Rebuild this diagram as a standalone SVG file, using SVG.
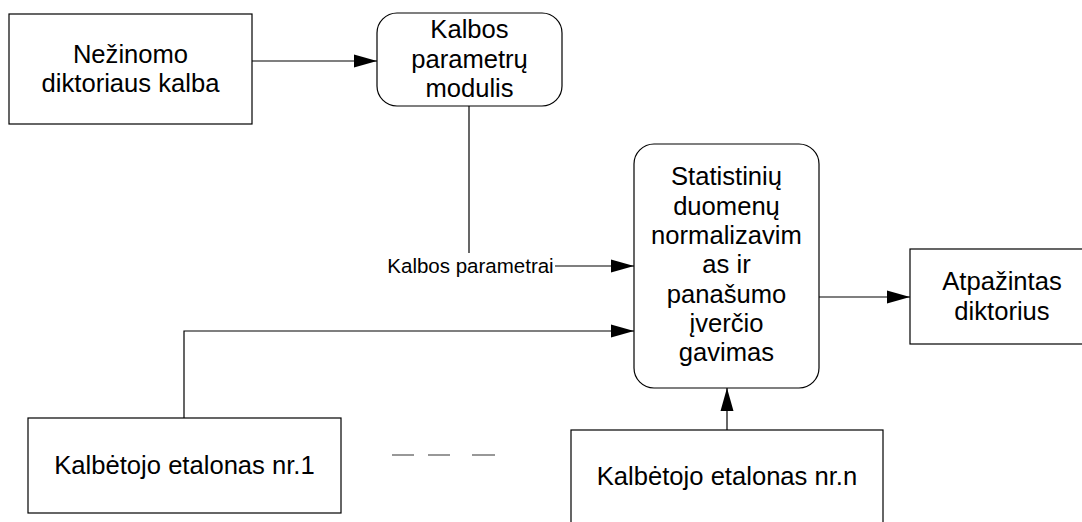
<svg xmlns="http://www.w3.org/2000/svg" width="1082" height="522" viewBox="0 0 1082 522">
  <style>
    .box { fill: #ffffff; stroke: #000000; stroke-width: 1.2; }
    .txt { font-family: "Liberation Sans", Arial, sans-serif; font-size: 25.6px; fill: #000000; text-anchor: middle; }
    .lbl { font-family: "Liberation Sans", Arial, sans-serif; font-size: 20.5px; fill: #000000; text-anchor: middle; }
    .wire { fill: none; stroke: #000000; stroke-width: 1.2; }
    .dash { fill: none; stroke: #333333; stroke-width: 1.2; }
  </style>
  <defs>
    <marker id="arrow" markerUnits="userSpaceOnUse" markerWidth="24" markerHeight="14" refX="23" refY="7" orient="auto">
      <path d="M0,0.5 L23,7 L0,13.5 Z" fill="#000000"/>
    </marker>
  </defs>
  <rect width="1082" height="522" fill="#ffffff"/>

  <g id="connectors">
    <path class="wire" d="M252,61 H377" marker-end="url(#arrow)"/>
    <path class="wire" d="M469,106 V253"/>
    <path class="wire" d="M555,266 H634" marker-end="url(#arrow)"/>
    <path class="wire" d="M184,418 V331 H634" marker-end="url(#arrow)"/>
    <path class="wire" d="M727,430 V388" marker-end="url(#arrow)"/>
    <path class="wire" d="M819,297 H910" marker-end="url(#arrow)"/>
    <text class="lbl" x="470.5" y="273">Kalbos parametrai</text>
  </g>

  <g id="unknown-speech">
    <rect class="box" x="9" y="14" width="243" height="110"/>
    <text class="txt" x="130.5" y="63">Nežinomo</text>
    <text class="txt" x="130.5" y="92">diktoriaus kalba</text>
  </g>

  <g id="param-module">
    <rect class="box" x="377" y="13" width="185" height="93" rx="20" ry="20"/>
    <text class="txt" x="469.5" y="38">Kalbos</text>
    <text class="txt" x="469.5" y="67.5">parametrų</text>
    <text class="txt" x="469.5" y="97">modulis</text>
  </g>

  <g id="normalization">
    <rect class="box" x="634" y="144" width="185" height="244" rx="20" ry="20"/>
    <text class="txt" x="726.5" y="185.4">Statistinių</text>
    <text class="txt" x="726.5" y="214.7">duomenų</text>
    <text class="txt" x="726.5" y="244">normalizavim</text>
    <text class="txt" x="726.5" y="273.3">as ir</text>
    <text class="txt" x="726.5" y="302.6">panašumo</text>
    <text class="txt" x="726.5" y="331.9">įverčio</text>
    <text class="txt" x="726.5" y="361.2">gavimas</text>
  </g>

  <g id="recognized-speaker">
    <rect class="box" x="910" y="249" width="184" height="95"/>
    <text class="txt" x="1002" y="290">Atpažintas</text>
    <text class="txt" x="1002" y="319.5">diktorius</text>
  </g>

  <g id="reference-1">
    <rect class="box" x="28" y="418" width="313" height="95"/>
    <text class="txt" x="184.5" y="474">Kalbėtojo etalonas nr.1</text>
  </g>

  <g id="ellipsis">
    <path class="dash" d="M392,455 H414 M428,455 H450 M472,455 H495"/>
  </g>

  <g id="reference-n">
    <rect class="box" x="571" y="430" width="312" height="110"/>
    <text class="txt" x="727" y="485">Kalbėtojo etalonas nr.n</text>
  </g>
</svg>
